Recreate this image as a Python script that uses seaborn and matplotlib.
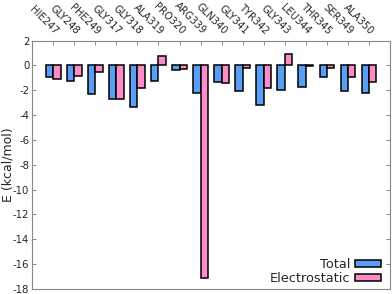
import numpy as np
import pandas as pd
import matplotlib
matplotlib.use("Agg")
import matplotlib.pyplot as plt
import seaborn as sns

# Per-residue energy decomposition
residues = ["HIE247", "GLY248", "PHE249", "GLY317", "GLY318", "ALA319", "PRO320",
            "ARG339", "GLN340", "GLY341", "TYR342", "GLY343", "LEU344", "THR345",
            "SER349", "ALA350"]
total = [-0.96, -1.24, -2.30, -2.73, -3.37, -1.26, -0.38, -2.25, -1.37, -2.06,
         -3.20, -1.98, -1.77, -0.91, -2.06, -2.20]
electrostatic = [-1.10, -0.86, -0.54, -2.70, -1.80, 0.75, -0.30, -17.10, -1.45, -0.24,
                 -1.80, 0.90, -0.05, -0.19, -0.91, -1.37]
series_names = ["Total", "Electrostatic"]
yticks = list(range(-18, 3, 2))

df = pd.DataFrame({
    "residue": residues * 2,
    "E": total + electrostatic,
    "term": [series_names[0]] * len(residues) + [series_names[1]] * len(residues),
})

sns.set_style("white")
plt.rcParams["font.family"] = ["DejaVu Sans"]

fig = plt.figure(figsize=(3.92, 2.94), dpi=100)
ax = fig.add_axes([0.082, 0.017, 0.913, 0.845])

sns.barplot(data=df, x="residue", y="E", hue="term", order=residues,
            hue_order=series_names, palette=["#5a9ff5", "#fa8cc8"],
            width=0.7, gap=0, edgecolor="black", linewidth=1.1,
            saturation=1, ax=ax, legend=True)

ax.set_xlim(-1, 16)
ax.set_ylim(-18, 2)
ax.set_yticks(yticks)
ax.set_yticklabels([str(t) for t in yticks], fontsize=7.3)
ax.set_xlabel("")
ax.set_ylabel("E (kcal/mol)", fontsize=9)
ax.yaxis.set_label_coords(-0.0505, 0.5)

# category labels along the top, slanted like the original
ax.tick_params(axis="x", which="both", top=True, bottom=False, labeltop=True,
               labelbottom=False, direction="in", length=3, width=0.6,
               color="#777777", pad=3)
ax.tick_params(axis="y", which="both", left=True, right=True, direction="in",
               length=3, width=0.6, color="#777777", pad=2)
ax.set_xticks(range(len(residues)))
ax.set_xticklabels(residues, rotation=-45, ha="right", va="bottom",
                   rotation_mode="anchor", fontsize=7.2)

for s in ax.spines.values():
    s.set_color("#888888")
    s.set_linewidth(0.8)

leg = ax.legend(loc="lower right", bbox_to_anchor=(0.975, 0.016),
                frameon=False, markerfirst=False,
                fontsize=9.3, handlelength=2.0, handleheight=0.45,
                labelspacing=0.1, borderaxespad=0, borderpad=0,
                handletextpad=0.4)
for h in leg.legend_handles:
    h.set_edgecolor("black")
    h.set_linewidth(1.1)

fig.savefig("out.png", dpi=100)
